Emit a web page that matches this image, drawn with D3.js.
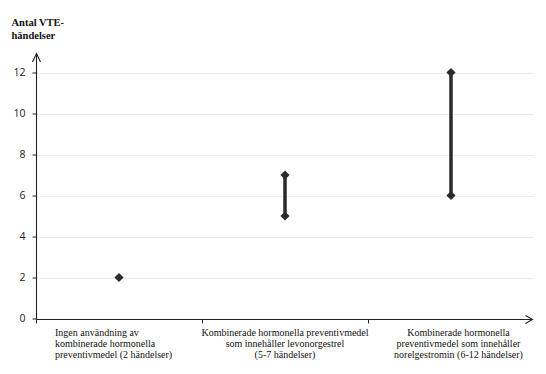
<!DOCTYPE html>
<html>
<head>
<meta charset="utf-8">
<script src="https://cdn.jsdelivr.net/npm/d3@7"></script>
<style>
  html, body { margin: 0; padding: 0; background: #ffffff; }
  svg { display: block; }
</style>
</head>
<body>
<svg id="chart" width="546" height="374"></svg>
<script>
// ---- data ----
const categories = [
  "Ingen användning av kombinerade hormonella preventivmedel (2 händelser)",
  "Kombinerade hormonella preventivmedel som innehåller levonorgestrel (5-7 händelser)",
  "Kombinerade hormonella preventivmedel som innehåller norelgestromin (6-12 händelser)"
];
const categoryLabelLines = [
  ["Ingen användning av", "kombinerade hormonella", "preventivmedel (2 händelser)"],
  ["Kombinerade hormonella preventivmedel", "som innehåller levonorgestrel", "(5-7 händelser)"],
  ["Kombinerade hormonella", "preventivmedel som innehåller", "norelgestromin (6-12 händelser)"]
];
const lowValues = [2, 5, 6];
const highValues = [2, 7, 12];
const yTicks = [0, 2, 4, 6, 8, 10, 12];
const yTitleLines = ["Antal VTE-", "händelser"];

// ---- layout ----
const svg = d3.select("#chart");
const x = d3.scaleBand().domain(categories).range([36, 534]).padding(0);
const y = d3.scaleLinear().domain([0, 12]).range([318.5, 72.5]);
const axisColor = "#222";
const markColor = "#2b2b2b";

// gridlines
svg.append("g").selectAll("line")
  .data(yTicks.filter(t => t > 0))
  .join("line")
  .attr("x1", 36).attr("x2", 534)
  .attr("y1", d => Math.round(y(d)) + 0.5).attr("y2", d => Math.round(y(d)) + 0.5)
  .attr("stroke", "#ededed").attr("stroke-width", 1);

// y axis
const yAxis = svg.append("g").attr("transform", "translate(36.5,0)")
  .call(d3.axisLeft(y).tickValues(yTicks).tickSize(4).tickPadding(7).tickFormat(d3.format("d")));
yAxis.select(".domain").remove();
yAxis.selectAll(".tick line").attr("stroke", axisColor);
yAxis.selectAll(".tick text")
  .attr("font-family", "'Open Sans', 'Noto Sans', sans-serif")
  .attr("font-size", "10.5px").attr("fill", "#222");
svg.append("line").attr("x1", 36.5).attr("x2", 36.5).attr("y1", 319).attr("y2", 53.5)
  .attr("stroke", axisColor).attr("stroke-width", 1.1);
svg.append("path").attr("d", "M32.5,62 L36.5,53.5 L40.5,62")
  .attr("fill", "none").attr("stroke", axisColor).attr("stroke-width", 1.1);

// x axis
const xAxisY = Math.round(y(0)) + 0.5;
svg.append("line").attr("x1", 36).attr("x2", 532).attr("y1", xAxisY).attr("y2", xAxisY)
  .attr("stroke", axisColor).attr("stroke-width", 1.1);
svg.append("path").attr("d", `M525.5,${xAxisY - 4} L532.5,${xAxisY} L525.5,${xAxisY + 4}`)
  .attr("fill", "none").attr("stroke", axisColor).attr("stroke-width", 1.1);
svg.append("g").selectAll("line")
  .data(categories)
  .join("line")
  .attr("x1", d => Math.round(x(d)) + 0.5).attr("x2", d => Math.round(x(d)) + 0.5)
  .attr("y1", xAxisY).attr("y2", xAxisY + 4)
  .attr("stroke", axisColor);

// category labels
const labelAnchor = ["start", "middle", "middle"];
const labelOffset = [-64, 0, 7.5];
categories.forEach((c, i) => {
  const t = svg.append("text")
    .attr("font-family", "'Liberation Serif', 'Times New Roman', serif")
    .attr("font-size", "10px").attr("fill", "#111")
    .attr("text-anchor", labelAnchor[i]);
  categoryLabelLines[i].forEach((line, j) => {
    t.append("tspan")
      .attr("x", x(c) + x.bandwidth() / 2 + labelOffset[i])
      .attr("y", 336 + j * 10.9)
      .text(line);
  });
});

// y title
const title = svg.append("text")
  .attr("font-family", "'Liberation Serif', 'Times New Roman', serif")
  .attr("font-size", "10.5px").attr("font-weight", "bold").attr("fill", "#111");
yTitleLines.forEach((line, j) => {
  title.append("tspan").attr("x", 11.5).attr("y", 25.5 + j * 13).text(line);
});

// range lines
svg.append("g").selectAll("line")
  .data(categories.map((c, i) => ({ c, lo: lowValues[i], hi: highValues[i] })).filter(d => d.hi > d.lo))
  .join("line")
  .attr("x1", d => x(d.c) + x.bandwidth() / 2).attr("x2", d => x(d.c) + x.bandwidth() / 2)
  .attr("y1", d => y(d.lo)).attr("y2", d => y(d.hi))
  .attr("stroke", markColor).attr("stroke-width", 3.5);

// diamonds
const pts = [];
categories.forEach((c, i) => {
  pts.push({ c, v: lowValues[i] });
  if (highValues[i] !== lowValues[i]) pts.push({ c, v: highValues[i] });
});
const diamond = d3.symbol().type(d3.symbolSquare).size(42);
svg.append("g").selectAll("path")
  .data(pts)
  .join("path")
  .attr("d", diamond)
  .attr("transform", d => `translate(${x(d.c) + x.bandwidth() / 2},${y(d.v)}) rotate(45)`)
  .attr("fill", markColor);
</script>
</body>
</html>
